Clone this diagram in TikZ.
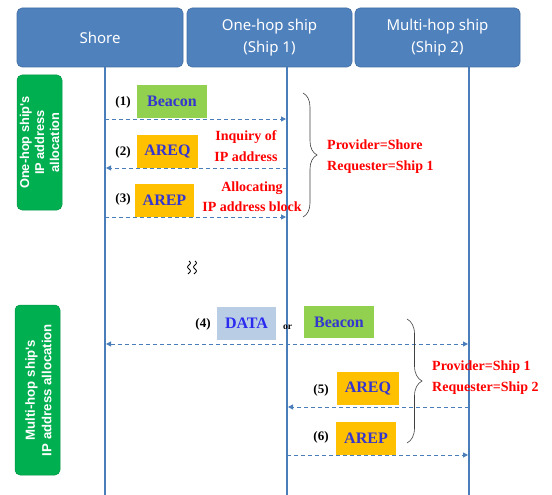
\documentclass[tikz,border=0pt]{standalone}
\usepackage{fontspec}
\setmainfont{Liberation Serif}
\newfontfamily\hdrfont{Noto Sans}
\newfontfamily\phfont{Liberation Sans}
\usetikzlibrary{arrows.meta,decorations.pathreplacing}
\definecolor{hdrblue}{HTML}{4F81BD}
\definecolor{lifeblue}{HTML}{4A7EBB}
\definecolor{grn}{HTML}{00B050}
\definecolor{beacongrn}{HTML}{92D050}
\definecolor{orng}{HTML}{FFC000}
\definecolor{datablue}{HTML}{B9CDE5}
\definecolor{txtblue}{HTML}{3535D0}
\definecolor{datatxt}{HTML}{2B2BF0}
\begin{document}
\begin{tikzpicture}[x=1pt,y=-1pt,
  hdr/.style={rounded corners=5pt, fill=hdrblue, draw=hdrblue!85!black, line width=0.6pt,
    text=white, font=\hdrfont\fontsize{15}{22}\selectfont, align=center,
    minimum height=59pt, inner sep=0pt},
  phase/.style={rounded corners=5pt, fill=grn, draw=grn!85!black, line width=0.5pt,
    minimum width=45pt, inner sep=0pt},
  phasetxt/.style={rotate=90, text=white, align=center, inner sep=0pt},
  life/.style={draw=lifeblue, line width=2.2pt},
  msg/.style={draw=lifeblue, line width=1pt, dash pattern=on 4pt off 3pt,
    -{Triangle[length=5pt,width=5pt]}},
  msgb/.style={msg, {Triangle[length=5pt,width=5pt]}-{Triangle[length=5pt,width=5pt]}},
  pkt/.style={minimum height=33pt, inner sep=0pt, text=txtblue,
    font=\bfseries\fontsize{16}{18}\selectfont},
  beaconbox/.style={pkt, fill=beacongrn, minimum width=70pt},
  orbox/.style={pkt, fill=orng},
  databox/.style={pkt, fill=datablue, text=datatxt, minimum width=59pt},
  num/.style={font=\bfseries\fontsize{13}{15}\selectfont, inner sep=0pt},
  redtxt/.style={text=red, font=\bfseries\fontsize{14}{21}\selectfont, inner sep=0pt},
  bracestyle/.style={decorate, draw=black!75, line width=0.6pt},
  squiggle/.style={draw=black, line width=0.8pt}
]
\useasboundingbox (0,0) rectangle (552,495);

% headers
\node[hdr, minimum width=166pt] (shore) at (100,37.5) {Shore};
\node[hdr, minimum width=165pt] (ship1) at (269.5,37.5) {One-hop ship\\(Ship 1)};
\node[hdr, minimum width=165pt] (ship2) at (437.5,37.5) {Multi-hop ship\\(Ship 2)};

% lifelines
\coordinate (l0t) at (105,67.5); \coordinate (l0b) at (105,495);
\coordinate (l1t) at (287,67.5); \coordinate (l1b) at (287,495);
\coordinate (l2t) at (469,67.5); \coordinate (l2b) at (469,495);
\draw[life] (l0t) -- (l0b);
\draw[life] (l1t) -- (l1b);
\draw[life] (l2t) -- (l2b);

% phase boxes
\node[phase, minimum height=135pt] (ph1) at (39.5,142.5) {};
\node[phasetxt, font=\phfont\bfseries\fontsize{12.8}{15}\selectfont] (ph1t) at (ph1.center) {One-hop ship's\\IP address\\allocation};
\node[phase, minimum height=170pt] (ph2) at (37.5,390) {};
\node[phasetxt, font=\phfont\bfseries\fontsize{13.2}{16.5}\selectfont] (ph2t) at (38.5,390) {Multi-hop ship's\\IP address allocation};

% message 1
\node[num] (n1) at (123,102) {(1)};
\node[beaconbox] (b1) at (172,101.5) {Beacon};
\coordinate (m1s) at (105,119); \coordinate (m1e) at (286,119);
\draw[msg] (m1s) -- (m1e);

% message 2
\node[num] (n2) at (123,152) {(2)};
\node[orbox, minimum width=61pt] (q1) at (167.5,151.5) {AREQ};
\node[redtxt, align=center] (r2) at (246,146.5) {Inquiry of\\IP address};
\coordinate (m2s) at (287,168); \coordinate (m2e) at (106,168);
\draw[msg] (m2s) -- (m2e);

% message 3
\node[num] (n3) at (123,199) {(3)};
\node[orbox, minimum width=59pt] (p1) at (164.5,200.5) {AREP};
\node[redtxt, align=center, font=\bfseries\fontsize{14}{20}\selectfont] (r3) at (252,197) {Allocating\\IP address block};
\coordinate (m3s) at (105,217); \coordinate (m3e) at (286,217);
\draw[msg] (m3s) -- (m3e);

% brace 1
\coordinate (br1a) at (303,93); \coordinate (br1b) at (303,217);
\draw[bracestyle, decoration={brace, amplitude=14pt}] (br1a) -- (br1b);
\node[redtxt, anchor=west, align=left] (pr1) at (327,156.5) {Provider=Shore\\Requester=Ship 1};

% gap symbol (two vertical squiggles)
\draw[squiggle, domain=0:13, samples=40, variable=\t] plot ({189+1.4*sin(\t*45)},{261+\t});
\draw[squiggle, domain=0:13, samples=40, variable=\t] plot ({195+1.4*sin(\t*45)},{261+\t});

% message 4
\node[num] (n4) at (203,324) {(4)};
\node[databox] (d4) at (246.5,323.5) {DATA};
\node[inner sep=0pt, font=\bfseries\fontsize{9.5}{11}\selectfont] (or4) at (287.5,327) {or};
\node[beaconbox, minimum height=32pt] (b4) at (339,322) {Beacon};
\coordinate (m4s) at (106,344); \coordinate (m4e) at (468,344);
\draw[msgb] (m4s) -- (m4e);

% message 5
\node[num] (n5) at (321,390) {(5)};
\node[orbox, minimum width=62pt] (q2) at (368,388.5) {AREQ};
\coordinate (m5s) at (469,407); \coordinate (m5e) at (288,407);
\draw[msg] (m5s) -- (m5e);

% message 6
\node[num] (n6) at (321,437) {(6)};
\node[orbox, minimum width=60pt] (p2) at (366,438.5) {AREP};
\coordinate (m6s) at (287,455); \coordinate (m6e) at (468,455);
\draw[msg] (m6s) -- (m6e);

% brace 2
\coordinate (br2a) at (407,319); \coordinate (br2b) at (407,443);
\draw[bracestyle, decoration={brace, amplitude=15pt}] (br2a) -- (br2b);
\node[redtxt, anchor=west, align=left] (pr2) at (432,377.5) {Provider=Ship 1\\Requester=Ship 2};
\end{tikzpicture}
\end{document}
